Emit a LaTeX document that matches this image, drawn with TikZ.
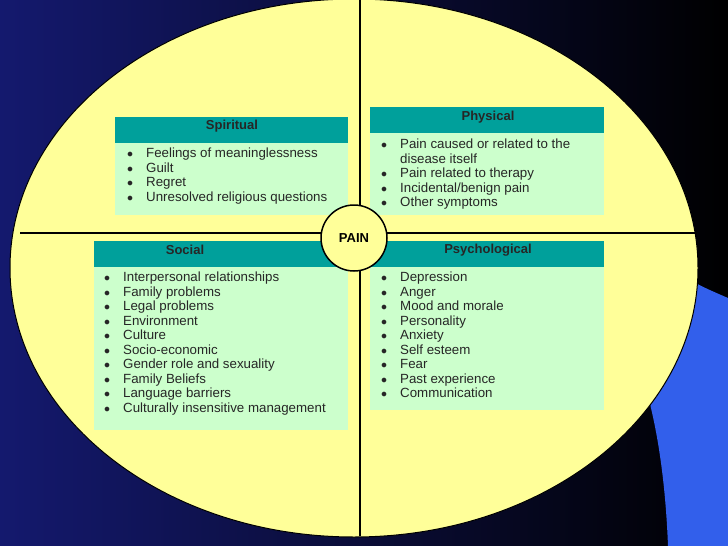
\documentclass[tikz,border=0pt]{standalone}
\usepackage{fontspec}
\setmainfont{Liberation Sans}
\usetikzlibrary{shapes.geometric}
\newcommand{\bu}{\makebox[19pt][l]{\large$\bullet$}}
\begin{document}
\begin{tikzpicture}[x=1pt,y=-1pt,
  hdr/.style={fill={rgb,255:red,0;green,160;blue,155},draw=none},
  bodyb/.style={fill={rgb,255:red,204;green,255;blue,204},draw=none},
  htxt/.style={font=\fontsize{13}{15}\selectfont\bfseries,text=black!85},
  itm/.style={font=\fontsize{13.3}{14.5}\selectfont,text=black!85,align=left,anchor=north west,inner sep=0pt}]
\definecolor{navy}{RGB}{20,25,110}
\useasboundingbox (0,0) rectangle (728,546);
\shade[left color=navy, right color=black] (0,0) rectangle (728,546);
\fill[fill={rgb,255:red,50;green,95;blue,235}] (690,280) .. controls (705,288) .. (728,298) -- (728,546) -- (668,546) .. controls (665,470) and (655,420) .. (645,385) -- cycle;
\node[ellipse, draw=black, line width=1pt, fill={rgb,255:red,255;green,255;blue,153}, minimum width=688pt, minimum height=538pt, inner sep=0pt] (ell) at (354,268) {};
\draw[line width=1.5pt] (360,0) -- (360,536);
\draw[line width=1.5pt] (20,233) -- (697,233);
% Spiritual
\fill[hdr] (115,117) rectangle (348,143);
\fill[bodyb] (115,143) rectangle (348,215);
\node[htxt] (sp) at (232,126) {Spiritual};
\node[itm] (spl) at (127,148) {\bu Feelings of meaninglessness\\\bu Guilt\\\bu Regret\\\bu Unresolved religious questions};
% Physical
\fill[hdr] (370,107) rectangle (604,133);
\fill[bodyb] (370,133) rectangle (604,215);
\node[htxt] (ph) at (488,117) {Physical};
\node[itm] (phl) at (381,139) {\bu Pain caused or related to the\\\hspace{19pt}disease itself\\\bu Pain related to therapy\\\bu Incidental/benign pain\\\bu Other symptoms};
% Social
\fill[hdr] (94,241) rectangle (348,267);
\fill[bodyb] (94,267) rectangle (348,430);
\node[htxt] (so) at (185,250) {Social};
\node[itm] (sol) at (104,272) {\bu Interpersonal relationships\\\bu Family problems\\\bu Legal problems\\\bu Environment\\\bu Culture\\\bu Socio-economic\\\bu Gender role and sexuality\\\bu Family Beliefs\\\bu Language barriers\\\bu Culturally insensitive management};
% Psychological
\fill[hdr] (370,241) rectangle (604,267);
\fill[bodyb] (370,267) rectangle (604,410);
\node[htxt] (ps) at (488,250) {Psychological};
\node[itm] (psl) at (381,272) {\bu Depression\\\bu Anger\\\bu Mood and morale\\\bu Personality\\\bu Anxiety\\\bu Self esteem\\\bu Fear\\\bu Past experience\\\bu Communication};
\node[circle, draw=black, line width=1.5pt, fill={rgb,255:red,255;green,255;blue,153}, minimum size=66pt, inner sep=0pt, font=\fontsize{13}{15}\selectfont\bfseries] (pain) at (354,238) {PAIN};
\end{tikzpicture}
\end{document}
